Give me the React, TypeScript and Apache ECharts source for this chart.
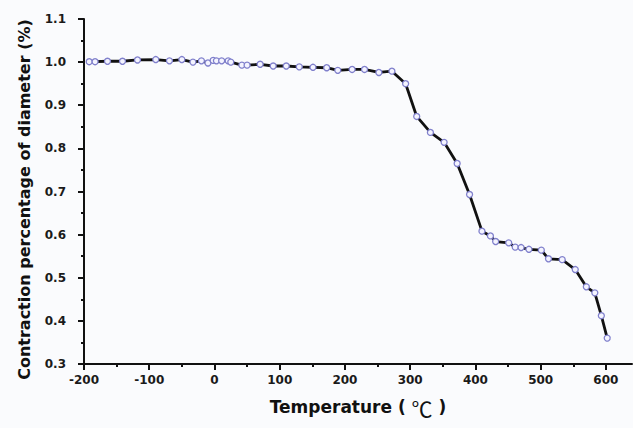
import React, { useEffect, useRef } from "react";
import * as echarts from "echarts";

const temperatures = [
  -192, -183, -164, -141, -118, -90, -69, -50, -33, -20, -10, -2, 3, 11, 21, 25,
  42, 50, 70, 90, 110, 130, 151, 172, 189, 211, 230, 252, 272, 293, 310, 331,
  352, 372, 391, 410, 423, 431, 451, 461, 470, 482, 501, 512, 533, 553, 570,
  583, 593, 602,
];
const contraction = [
  1.001, 1.001, 1.002, 1.002, 1.005, 1.006, 1.003, 1.006, 1.0, 1.003, 0.998,
  1.004, 1.003, 1.003, 1.003, 1.0, 0.993, 0.993, 0.995, 0.991, 0.991, 0.989,
  0.988, 0.987, 0.981, 0.983, 0.983, 0.976, 0.979, 0.95, 0.874, 0.837, 0.814,
  0.765, 0.693, 0.608, 0.597, 0.584, 0.581, 0.571, 0.57, 0.566, 0.564, 0.544,
  0.542, 0.519, 0.479, 0.465, 0.412, 0.36,
];
const xTickLabels = [-200, -100, 0, 100, 200, 300, 400, 500, 600];
const xMinorTicks = [-150, -50, 50, 150, 250, 350, 450, 550];

export default function App() {
  const ref = useRef<HTMLDivElement>(null);
  useEffect(() => {
    document.body.style.margin = "0";
    document.body.style.background = "#fafbfd";
    if (!ref.current) return;
    const chart = echarts.init(ref.current, undefined, { renderer: "svg" });
    const data = temperatures.map((t, i) => [t, contraction[i]]);
    const font = "DejaVu Sans, Verdana, sans-serif";
    const labelStyle = {
      color: "#1a1a1a",
      fontFamily: font,
      fontWeight: "bold" as const,
      fontSize: 12,
    };
    chart.setOption({
      animation: false,
      backgroundColor: "#fafbfd",
      grid: { left: 84, right: 1, top: 19, bottom: 64, containLabel: false },
      xAxis: [
        {
          type: "value",
          min: -200,
          max: 640,
          interval: 100,
          name: "Temperature ( {c|℃} )",
          nameLocation: "middle",
          nameGap: 33,
          nameTextStyle: {
            color: "#111",
            fontFamily: font,
            fontWeight: "bold",
            fontSize: 17,
            rich: {
              c: {
                fontFamily: "Noto Sans CJK SC",
                fontWeight: "normal",
                fontSize: 21,
                color: "#111",
              },
            },
          },
          axisLine: { show: true, onZero: false, lineStyle: { color: "#111", width: 2 } },
          axisTick: {
            show: true,
            length: 6,
            customValues: xTickLabels,
            lineStyle: { color: "#111", width: 2 },
          },
          axisLabel: {
            ...labelStyle,
            margin: 10,
            customValues: xTickLabels,
            formatter: (v: number) => String(v),
          },
          splitLine: { show: false },
        },
        {
          type: "value",
          min: -200,
          max: 640,
          position: "bottom",
          axisLine: { show: false, onZero: false },
          axisTick: {
            show: true,
            length: 3,
            customValues: xMinorTicks,
            lineStyle: { color: "#111", width: 2 },
          },
          axisLabel: { show: false },
          splitLine: { show: false },
        },
      ],
      yAxis: {
        type: "value",
        min: 0.3,
        max: 1.1,
        interval: 0.1,
        name: "Contraction percentage of diameter (%)",
        nameLocation: "middle",
        nameGap: 52,
        nameTextStyle: {
          color: "#111",
          fontFamily: font,
          fontWeight: "bold",
          fontSize: 16,
          padding: [0, 16, 0, 0],
        },
        axisLine: { show: true, onZero: false, lineStyle: { color: "#111", width: 2 } },
        axisTick: { show: true, length: 6, lineStyle: { color: "#111", width: 2 } },
        minorTick: { show: true, splitNumber: 2, length: 3, lineStyle: { color: "#111", width: 2 } },
        axisLabel: {
          ...labelStyle,
          margin: 18,
          formatter: (v: number) => v.toFixed(1),
        },
        splitLine: { show: false },
      },
      series: [
        {
          type: "line",
          data,
          xAxisIndex: 0,
          symbol: "circle",
          symbolSize: 6,
          clip: false,
          lineStyle: { color: "#111", width: 2.8 },
          itemStyle: { color: "#f4f4ff", borderColor: "#8080cc", borderWidth: 1.3 },
        },
      ],
    });
    return () => chart.dispose();
  }, []);
  return <div ref={ref} style={{ width: 633, height: 428 }} />;
}
